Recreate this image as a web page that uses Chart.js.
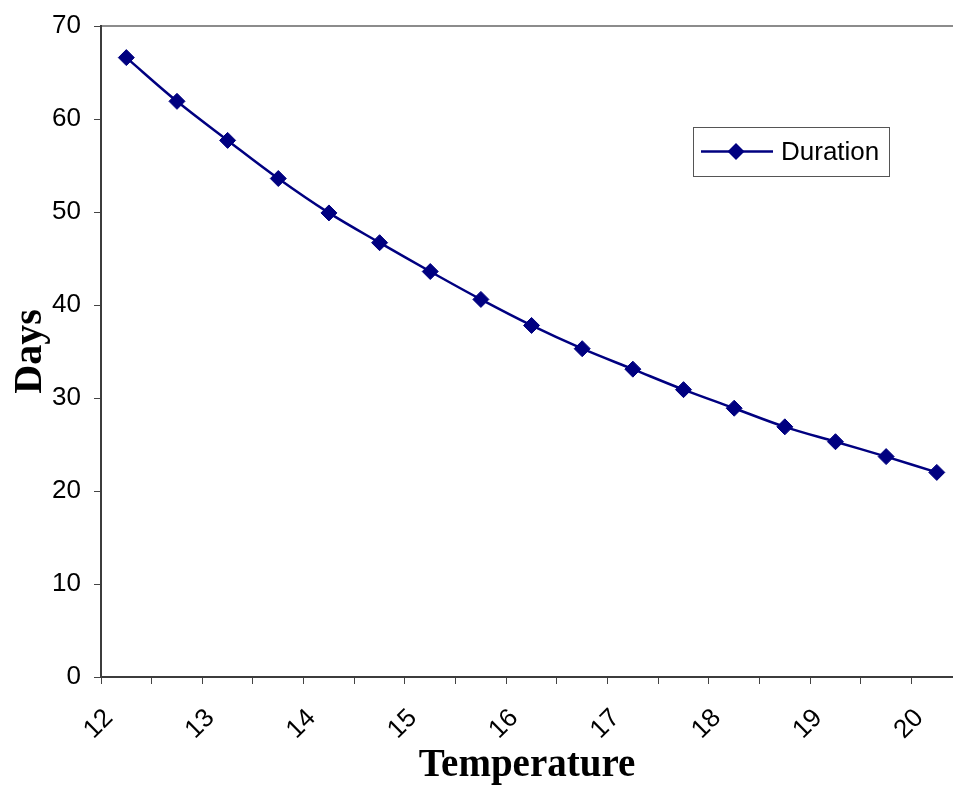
<!DOCTYPE html>
<html>
<head>
<meta charset="utf-8">
<script src="https://cdn.jsdelivr.net/npm/chart.js@4.4.1/dist/chart.umd.min.js"></script>
<style>
  html, body { margin: 0; padding: 0; background: #fff; overflow: hidden; }
  #wrap { width: 953px; height: 786px; }
</style>
</head>
<body>
<div id="wrap"><canvas id="grafico"></canvas></div>
<script>
// data
const temperatures = [12.25, 12.75, 13.25, 13.75, 14.25, 14.75, 15.25, 15.75, 16.25,
                      16.75, 17.25, 17.75, 18.25, 18.75, 19.25, 19.75, 20.25];
const duration = [66.6, 61.9, 57.7, 53.6, 49.9, 46.7, 43.6, 40.6, 37.8,
                  35.3, 33.1, 30.9, 28.9, 26.9, 25.3, 23.7, 22.0];
const xTicks = [12, 12.5, 13, 13.5, 14, 14.5, 15, 15.5, 16, 16.5, 17, 17.5, 18, 18.5, 19, 19.5, 20];
const yTicks = [0, 10, 20, 30, 40, 50, 60, 70];
const seriesName = 'Duration';

const navy = '#000080';
const sans = '"Liberation Sans", Arial, sans-serif';
const serif = '"Liberation Serif", "Times New Roman", serif';

// legend box drawn inside the plot, like the original
const boxLegend = {
  id: 'boxLegend',
  afterDraw(chart) {
    const ctx = chart.ctx;
    const ds = chart.data.datasets[0];
    const x = 693, y = 127, w = 196, h = 49, cy = y + h / 2;
    ctx.save();
    ctx.fillStyle = '#fff';
    ctx.fillRect(x, y, w, h);
    ctx.strokeStyle = '#555';
    ctx.lineWidth = 1;
    ctx.strokeRect(x + 0.5, y + 0.5, w, h);
    ctx.strokeStyle = ds.borderColor;
    ctx.lineWidth = ds.borderWidth;
    ctx.beginPath();
    ctx.moveTo(x + 8, cy);
    ctx.lineTo(x + 80, cy);
    ctx.stroke();
    ctx.fillStyle = ds.pointBackgroundColor;
    ctx.beginPath();
    ctx.moveTo(x + 43, cy - 8.5);
    ctx.lineTo(x + 51.5, cy);
    ctx.lineTo(x + 43, cy + 8.5);
    ctx.lineTo(x + 34.5, cy);
    ctx.closePath();
    ctx.fill();
    ctx.fillStyle = '#000';
    ctx.font = '26px ' + sans;
    ctx.textBaseline = 'middle';
    ctx.textAlign = 'left';
    ctx.fillText(ds.label, x + 88, cy + 1);
    ctx.restore();
  }
};

const chartdata = {
  datasets: [{
    label: seriesName,
    data: temperatures.map((t, i) => ({ x: t, y: duration[i] })),
    borderColor: navy,
    backgroundColor: navy,
    pointBackgroundColor: navy,
    pointBorderColor: navy,
    borderWidth: 2.5,
    pointStyle: 'rectRot',
    pointRadius: 8,
    pointBorderWidth: 1,
    tension: 0.35,
    fill: false,
    clip: false
  }]
};

new Chart(document.getElementById('grafico'), {
  type: 'line',
  data: chartdata,
  plugins: [boxLegend],
  options: {
    responsive: true,
    maintainAspectRatio: false,
    animation: false,
    layout: { autoPadding: false, padding: { top: 26, right: 0, left: 0, bottom: 0 } },
    plugins: { legend: { display: false }, tooltip: { enabled: false } },
    scales: {
      x: {
        type: 'linear',
        position: 'bottom',
        min: 12,
        max: 20.41,
        afterBuildTicks: s => { s.ticks = xTicks.map(v => ({ value: v })); },
        afterFit: s => { s.height = 109; s.paddingLeft = 0; s.paddingRight = 0; },
        grid: { drawOnChartArea: false, drawTicks: true, tickLength: 7, color: '#444', lineWidth: 1 },
        border: { display: true, color: '#3c3c3c', width: 2 },
        ticks: {
          autoSkip: false,
          minRotation: 45,
          maxRotation: 45,
          labelOffset: 8,
          padding: 19,
          color: '#000',
          font: { family: sans, size: 26 },
          callback: v => Number.isInteger(v) ? String(v) : ''
        },
        title: {
          display: true,
          text: 'Temperature',
          color: '#000',
          font: { family: serif, size: 39, weight: 'bold', lineHeight: 1.05 },
          padding: { top: 0, bottom: 0 }
        }
      },
      x2: {
        type: 'linear',
        position: 'top',
        min: 12,
        max: 20.41,
        afterFit: s => { s.height = 0; s.paddingLeft = 0; s.paddingRight = 0; },
        grid: { display: false },
        ticks: { display: false },
        border: { display: true, color: '#8c8c8c', width: 2 }
      },
      y: {
        min: 0,
        max: 70,
        afterBuildTicks: s => { s.ticks = yTicks.map(v => ({ value: v })); },
        afterFit: s => { s.width = 101; s.paddingTop = 0; s.paddingBottom = 0; },
        grid: { drawOnChartArea: false, drawTicks: true, tickLength: 7, color: '#444', lineWidth: 1 },
        border: { display: true, color: '#3c3c3c', width: 2 },
        ticks: {
          padding: 13,
          color: '#000',
          font: { family: sans, size: 26 }
        },
        title: {
          display: true,
          text: 'Days',
          color: '#000',
          font: { family: serif, size: 40, weight: 'bold' },
          padding: { top: 7, bottom: 0 }
        }
      }
    }
  }
});
</script>
</body>
</html>
